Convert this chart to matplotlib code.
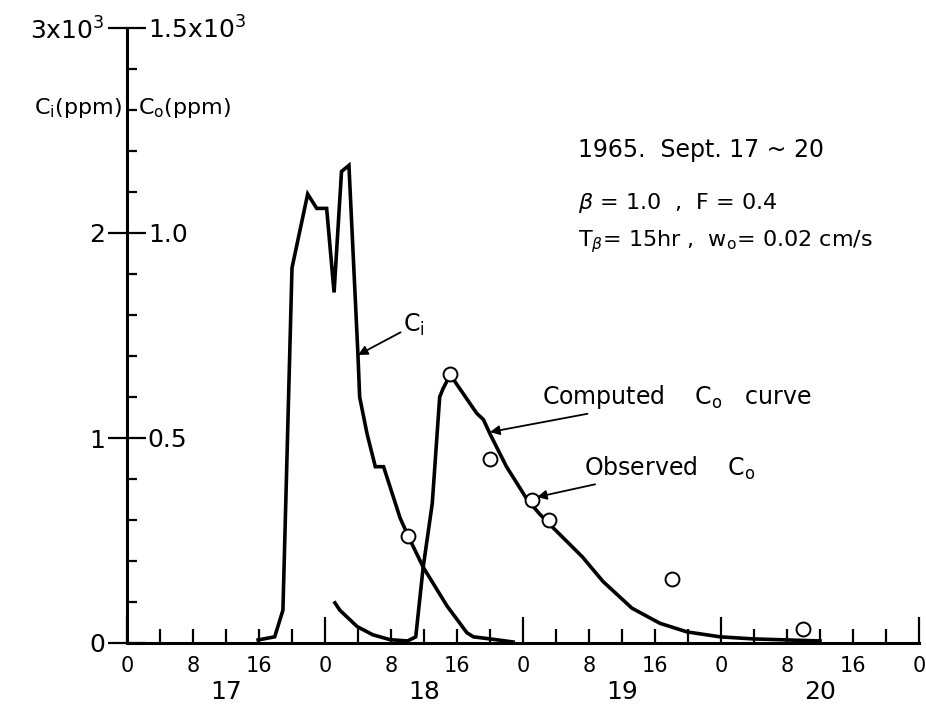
import matplotlib
matplotlib.use('Agg')
import matplotlib.pyplot as plt
from matplotlib.ticker import FixedLocator, FuncFormatter

# hours from 0h Sept. 17
ci_hours = [15.9, 17.9, 18.9, 20.0, 21.9, 23.0, 24.2, 25.1, 26.0, 26.9, 28.0, 28.2, 29.1,
            30.1, 31.1, 33.1, 34.1, 35.9, 38.8, 41.2, 42.0, 44.0, 46.8]
ci_ppm = [15, 30, 160, 1830, 2190, 2120, 2120, 1710, 2300, 2330, 1400, 1200, 1020,
          860, 860, 610, 520, 370, 180, 50, 30, 20, 5]

co_hours = [25.2, 25.8, 27.9, 29.8, 31.9, 34.0, 35.0, 35.9, 37.0, 37.9, 38.3, 39.2, 39.5,
            41.2, 42.4, 43.2, 44.0, 46.0, 48.5, 50.0, 51.7, 55.2, 57.7, 61.2, 64.6,
            67.9, 71.9, 75.9, 84.0]
co_ppm = [98, 80, 40, 20, 8, 5, 15, 185, 340, 600, 620, 655, 645,
          595, 560, 545, 510, 430, 350, 315, 280, 210, 150, 85, 48,
          27, 15, 10, 5]

obs_hours = [34.1, 39.2, 44.0, 49.1, 51.2, 66.1, 81.9]
obs_ppm = [260, 655, 450, 350, 300, 155, 35]

day_names = ['17', '18', '19', '20']
ci_ticks = [0, 1000, 2000, 3000]
ci_ticklabels = ['0', '1', '2', r'3x10$^3$']
co_ticks = [500, 1000, 1500]
co_ticklabels = ['0.5', '1.0', r'1.5x10$^3$']

plt.rcParams['font.family'] = 'DejaVu Sans'
plt.rcParams['mathtext.fontset'] = 'dejavusans'

fig = plt.figure(figsize=(9.26, 7.04), dpi=100)
ax = fig.add_axes([127 / 926, 61 / 704, 792 / 926, 615 / 704])
ax2 = ax.twinx()

ax.set_xlim(0, 96)
ax.set_ylim(0, 3000)
ax2.set_ylim(0, 1500)

for s in ['top', 'right']:
    ax.spines[s].set_visible(False)
for s in ['top', 'left', 'bottom']:
    ax2.spines[s].set_visible(False)
ax2.spines['right'].set_position(('axes', 0))
ax2.spines['right'].set_visible(False)
ax.spines['left'].set_linewidth(2.2)
ax.spines['bottom'].set_linewidth(2.2)

# x ticks: days long, every 4h short, labels every 8h
ax.xaxis.set_major_locator(FixedLocator([0, 24, 48, 72, 96]))
ax.xaxis.set_minor_locator(FixedLocator([h for h in range(0, 97, 4) if h % 24]))
ax.xaxis.set_major_formatter(FuncFormatter(lambda v, p: '0'))
ax.xaxis.set_minor_formatter(FuncFormatter(lambda v, p: '%d' % (v % 24) if v % 8 == 0 else ''))
ax.tick_params(axis='x', which='major', direction='in', length=19, width=1.6, labelsize=15, pad=9)
ax.tick_params(axis='x', which='minor', direction='in', length=10, width=1.6, labelsize=15, pad=9)

ax.set_yticks(ci_ticks)
ax.set_yticklabels(ci_ticklabels)
ax.yaxis.set_minor_locator(FixedLocator([y for y in range(200, 3000, 200) if y % 1000]))
ax.tick_params(axis='y', which='major', direction='inout', length=28, width=1.6, labelsize=18, pad=2)
ax.tick_params(axis='y', which='minor', direction='in', length=7, width=1.6)

ax2.set_yticks(co_ticks)
ax2.set_yticklabels(co_ticklabels)
ax2.tick_params(axis='y', which='major', length=0, labelsize=18, pad=15)

for i, d in enumerate(day_names):
    ax.text(12 + 24 * i, -240, d, ha='center', va='center', fontsize=18)

ax.plot(ci_hours, ci_ppm, color='black', lw=2.6, solid_joinstyle='miter', clip_on=False)
ax2.plot(co_hours, co_ppm, color='black', lw=2.6, clip_on=False)
ax2.plot(obs_hours, obs_ppm, 'o', ms=10, mfc='white', mec='black', mew=1.4, zorder=5, clip_on=False)

ax.text(-0.6, 2610, r'C$_\mathrm{i}$(ppm)', ha='right', va='center', fontsize=16)
ax.text(1.3, 2610, r'C$_\mathrm{o}$(ppm)', ha='left', va='center', fontsize=16)

ax.text(54.7, 2405, '1965.  Sept. 17 ~ 20', ha='left', va='center', fontsize=17)
ax.text(54.7, 2146, r'$\beta$ = 1.0  ,  F = 0.4', ha='left', va='center', fontsize=16)
ax.text(54.7, 1956, r'T$_\beta$= 15hr ,  w$_\mathrm{o}$= 0.02 cm/s', ha='left', va='center', fontsize=16)

arrow = dict(arrowstyle='-|>', color='black', lw=1.3, mutation_scale=14, shrinkA=0, shrinkB=0)
ax.annotate(r'C$_\mathrm{i}$', xy=(28.0, 1405), xytext=(33.5, 1551), ha='left', va='center',
            fontsize=17, arrowprops=arrow)
ax.annotate(r'Computed    C$_\mathrm{o}$   curve', xy=(44.0, 1029), xytext=(50.3, 1200),
            ha='left', va='center', fontsize=17, arrowprops=arrow)
ax.annotate(r'Observed    C$_\mathrm{o}$', xy=(49.7, 712), xytext=(55.4, 854),
            ha='left', va='center', fontsize=17, arrowprops=arrow)

fig.savefig('out.png', dpi=100)
